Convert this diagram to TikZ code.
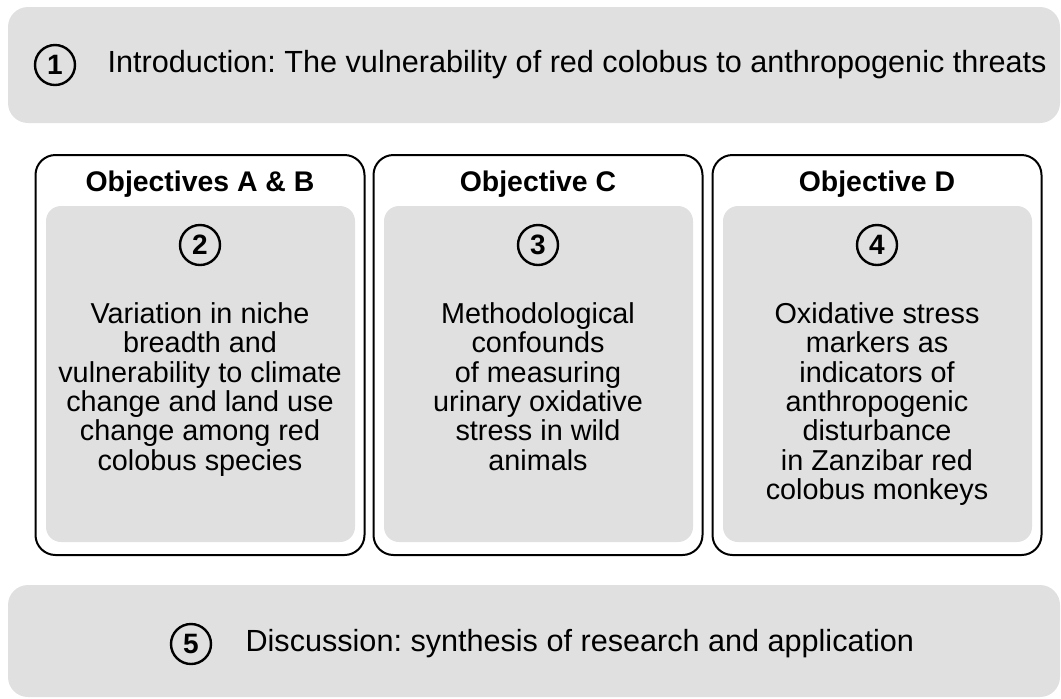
\documentclass[tikz,border=0pt]{standalone}
\usepackage{fontspec}
\setmainfont{Liberation Sans}
\usetikzlibrary{positioning}
\definecolor{boxgray}{RGB}{224,224,224}
\frenchspacing

\begin{document}
\begin{tikzpicture}[x=0.5pt, y=-0.5pt, line join=round, line cap=round, font=\fontsize{15.3}{18}\selectfont]
	\tikzset{banner/.style={fill=boxgray, rounded corners=10pt, minimum width=526pt, inner sep=0pt},
		panel/.style={draw, line width=1pt, rounded corners=10pt, minimum width=164.5pt, minimum height=200pt, inner sep=0pt},
		inbox/.style={fill=boxgray, rounded corners=7.5pt, minimum width=154.5pt, minimum height=168pt, inner sep=0pt},
		num/.style={draw, circle, line width=1.2pt, minimum size=20pt, inner sep=0pt, font=\fontsize{14}{14}\selectfont\bfseries},
		head/.style={anchor=base, inner sep=0pt, font=\fontsize{14.2}{16}\selectfont\bfseries},
		body/.style={anchor=north, align=center, inner sep=0pt, font=\fontsize{14.4}{14.7}\selectfont},
		oneline/.style={inner sep=0pt, text height=0.716em, text depth=0pt}}
	\useasboundingbox (0,0) rectangle (1061,698);
	% top and bottom banners
	\node[banner, minimum height=58pt] (intro) at (534,65) {};
	\node[banner, minimum height=56pt] (disc) at (534,641) {};
	\node[num] (n1) at (55,65) {1};
	\node[oneline, right=15.5pt of n1] (introtxt) {Introduction: The vulnerability of red colobus to anthropogenic threats};
	\node[num] (n5) at (191,644) {5};
	\node[oneline, right=16.5pt of n5] (disctxt) {Discussion: synthesis of research and application};
	% objectives A & B
	\node[panel] (objab) at (200,355) {};
	\node[inbox] (inab) at (200.5,374) {};
	\node[head] (headab) at (200,191) {Objectives A \& B};
	\node[num] (n2) at (200,245) {2};
	\node[body] (txtab) at (200,302) {Variation in niche\\breadth and\\vulnerability to climate\\change and land use\\change among red\\colobus species};
	% objective C
	\node[panel] (objc) at (538,355) {};
	\node[inbox] (inc) at (538.5,374) {};
	\node[head] (headc) at (538,191) {Objective C};
	\node[num] (n3) at (538,245) {3};
	\node[body] (txtc) at (538,302) {Methodological\\confounds\\of measuring\\urinary oxidative\\stress in wild\\animals};
	% objective D
	\node[panel] (objd) at (877,355) {};
	\node[inbox] (ind) at (877.5,374) {};
	\node[head] (headd) at (877,191) {Objective D};
	\node[num] (n4) at (877,245) {4};
	\node[body] (txtd) at (877,302) {Oxidative stress\\markers as\\indicators of\\anthropogenic\\disturbance\\in Zanzibar red\\colobus monkeys};
\end{tikzpicture}
\end{document}
